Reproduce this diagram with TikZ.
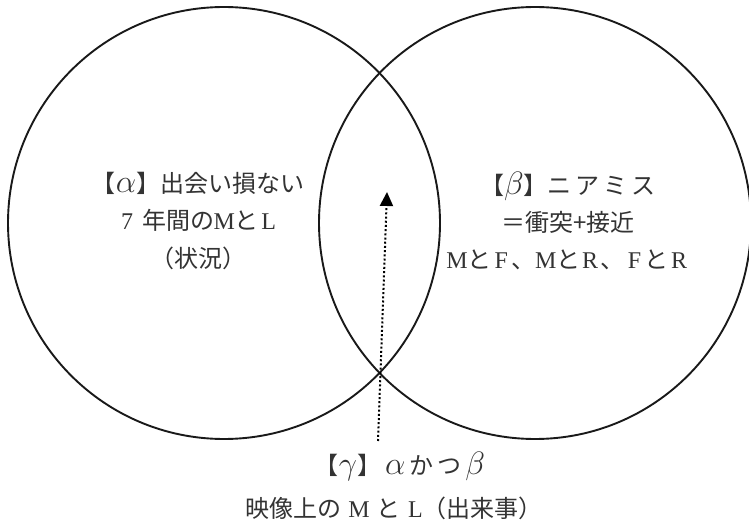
\documentclass[tikz,border=0pt]{standalone}
\usepackage{fontspec}
\setmainfont{Liberation Serif}
\newfontfamily\jp{Noto Sans CJK JP}
\newcommand\latn[1]{{\rmfamily #1}}
\newcommand\wlat[1]{\makebox[0.85em]{\rmfamily #1}}
\newcommand\gk[1]{\scalebox{1.3}{$#1$}}
\usetikzlibrary{arrows.meta}
\begin{document}
\begin{tikzpicture}[x=1pt,y=-1pt,
  venn/.style={circle,draw=black!90,line width=1.9pt,minimum size=432pt,inner sep=0pt},
  lbl/.style={align=center,font={\jp\fontsize{24}{37}\selectfont},inner sep=0pt,text=black!80},
  dotline/.style={line width=2pt,dash pattern=on 2pt off 2.2pt,-{Triangle[width=13pt,length=14pt]}}]
\useasboundingbox (0,0) rectangle (749,521);
\node[venn] (L) at (224,223) {};
\node[venn] (R) at (535,223) {};
\node[lbl] (a) at (198,221) {【\gk{\alpha}】出会い損ない\\\wlat{7}\hspace{0.2em}年間の\wlat{M}と\wlat{L}\\（状況）};
\node[lbl] (b) at (568,221) {【\gk{\beta}】ニ\,ア\,ミ\,ス\\＝衝突+接近\\\wlat{M}と\wlat{F}、\wlat{M}と\wlat{R}、\wlat{F}と\wlat{R}};
\node[lbl] (g) at (400,466) {【\gk{\gamma}】\,\gk{\alpha}\,か\,つ\,\gk{\beta}};
\node[lbl] (g2) at (394,508) {映像上の\hspace{0.3em}\latn{M}\hspace{0.3em}と\hspace{0.3em}\latn{L}（出来事）};
\coordinate (s) at (378,441);
\coordinate (t) at (387,192);
\draw[dotline] (s) -- (t);
\end{tikzpicture}
\end{document}
